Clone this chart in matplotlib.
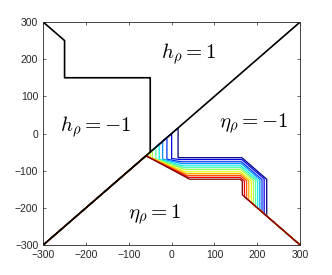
import matplotlib
matplotlib.use("Agg")
import matplotlib.pyplot as plt
import numpy as np

plt.rcParams['mathtext.fontset'] = 'cm'
plt.rcParams['font.family'] = ['Liberation Sans', 'DejaVu Sans']

# Grenzlinien (schwarz)
diag_x = [-300, 300]
diag_y = [-300, 300]
oben_x = [-300, -250, -250, -50, -50]
oben_y = [300, 250, 150, 150, -50]

# Kurvenschar, k=0 (rot) ... k=11 (blau)
start_s = [-60, -60, -60, -56, -50, -45, -37, -29, -21, -11, 0, 15]
vert_unten = [-60, -60, -60, -62, -64, -66, -68, -69, -69, -69, -67.5, -64.8]
knick_x = [42, 39, 36, 34, 32, 30, 28, 26, 24, 22, 20, 18]
niveau_h = [-123, -118, -113, -108, -103, -97, -92, -87, -81, -76, -70, -65]
ecke_x = [160, 160, 161, 161, 161, 162, 162, 162, 163, 163, 164, 164]
rechts_r = [165, 170, 175, 180, 186, 191, 196, 201, 206, 211, 216, 222]

beschriftungen = [
    (39, 212, r'$h_\rho = 1$'),
    (-178, 17, r'$h_\rho = -1$'),
    (193, 27, r'$\eta_\rho = -1$'),
    (-40, -219, r'$\eta_\rho = 1$'),
]

fig = plt.figure(figsize=(3.32, 2.75), dpi=100)
ax = fig.add_axes([0.130, 0.109, 0.774, 0.811])

n = len(start_s)
farben = plt.cm.jet(np.linspace(1, 0, n))
# blau zuerst zeichnen, rot oben drauf
for k in range(n - 1, -1, -1):
    s, v, kx, h = start_s[k], vert_unten[k], knick_x[k], niveau_h[k]
    c, r = ecke_x[k], rechts_r[k]
    xs = [-300, s, s, kx, c, r, r, 300]
    ys = [-300, s, v, h, h, h - (r - c), -r, -300]
    ax.plot(xs, ys, color=farben[k], lw=0.9)

ax.plot(diag_x, diag_y, color='black', lw=1.2)
ax.plot(oben_x, oben_y, color='black', lw=1.2)

for x, y, t in beschriftungen:
    ax.text(x, y, t, fontsize=15, ha='center', va='center')

ax.set_xlim(-300, 300)
ax.set_ylim(-300, 300)
ax.set_xticks(np.arange(-300, 301, 100))
ax.set_yticks(np.arange(-300, 301, 100))
ax.tick_params(direction='in', length=2.5, width=0.5, labelsize=7.5,
               colors='#262626', top=True, right=True)
for sp in ax.spines.values():
    sp.set_linewidth(0.6)
    sp.set_color('#262626')

fig.savefig('out.png', dpi=100)
